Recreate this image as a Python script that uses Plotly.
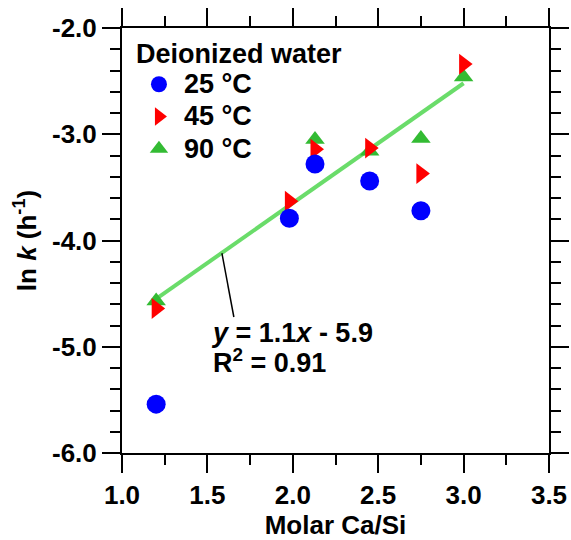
import plotly.graph_objects as go

# Data
x_25 = [1.2, 1.98, 2.13, 2.45, 2.75]
y_25 = [-5.54, -3.79, -3.28, -3.44, -3.72]

x_45 = [1.2, 1.98, 2.13, 2.45, 2.75, 3.0]
y_45 = [-4.64, -3.63, -3.14, -3.13, -3.37, -2.34]

x_90 = [1.2, 2.13, 2.45, 2.75, 3.0]
y_90 = [-4.57, -3.05, -3.16, -3.04, -2.46]

fit_x = [1.2, 3.0]
fit_y = [-4.55, -2.52]

leader_x = [1.585, 1.655]
leader_y = [-4.12, -4.72]

series_names = ["25 °C", "45 °C", "90 °C"]

x_tickvals = [1.0, 1.5, 2.0, 2.5, 3.0, 3.5]
x_ticktext = ["1.0", "1.5", "2.0", "2.5", "3.0", "3.5"]
y_tickvals = [-6.0, -5.0, -4.0, -3.0, -2.0]
y_ticktext = ["-6.0", "-5.0", "-4.0", "-3.0", "-2.0"]

FONT = "Liberation Sans, Arial, sans-serif"
FS = 26


def big(s, px=27):
    return '<span style="font-size:%dpx">' % px + s + "</span>"


fig = go.Figure()

fig.add_trace(go.Scatter(x=fit_x, y=fit_y, mode="lines",
                         line=dict(color="#6ADC6A", width=4),
                         showlegend=False, hoverinfo="skip"))
fig.add_trace(go.Scatter(x=x_90, y=y_90, mode="markers", name=big(series_names[2]),
                         marker=dict(symbol="triangle-up", size=17, color="#33BB33"),
                         legendrank=3))
fig.add_trace(go.Scatter(x=x_45, y=y_45, mode="markers", name=big(series_names[1]),
                         marker=dict(symbol="triangle-right", size=18, color="#FF0000"),
                         legendrank=2))
fig.add_trace(go.Scatter(x=x_25, y=y_25, mode="markers", name=big(series_names[0]),
                         marker=dict(symbol="circle", size=19, color="#0000FF"),
                         legendrank=1))

fig.add_shape(type="line", x0=leader_x[0], y0=leader_y[0], x1=leader_x[1], y1=leader_y[1],
              xref="x", yref="y", line=dict(color="black", width=1.5))

fig.add_annotation(x=leader_x[1], y=leader_y[1], xref="x", yref="y",
                   xanchor="left", yanchor="middle", xshift=-25, yshift=-31,
                   text=big("<i>y</i> = 1.1<i>x</i> - 5.9") + "<br>" + big("R<sup>2</sup> = 0.91"),
                   showarrow=False, align="left",
                   font=dict(family=FONT, size=23, color="black", weight="bold"))

axis_common = dict(
    showline=True, linecolor="black", linewidth=2,
    mirror="allticks", ticks="outside", ticklen=18, tickwidth=2, tickcolor="black",
    showgrid=False, zeroline=False, automargin=False,
    tickfont=dict(family=FONT, size=FS, color="black", weight="bold"),
)

fig.update_xaxes(range=[1.0, 3.5], tickmode="array", tickvals=x_tickvals, ticktext=x_ticktext,
                 minor=dict(dtick=0.25, tick0=1.0, ticks="outside", ticklen=10, tickwidth=2, tickcolor="black"),
                 title=dict(text="Molar Ca/Si", standoff=9,
                            font=dict(family=FONT, size=FS, color="black", weight="bold")),
                 **axis_common)
fig.update_yaxes(range=[-6.0, -2.0], tickmode="array", tickvals=y_tickvals, ticktext=y_ticktext,
                 minor=dict(dtick=0.2, tick0=-6.0, ticks="outside", ticklen=10, tickwidth=2, tickcolor="black"),
                 title=dict(text="ln <i>k</i> (h<sup>-1</sup>)", standoff=8,
                            font=dict(family=FONT, size=FS, color="black", weight="bold")),
                 **axis_common)

fig.update_layout(
    width=571, height=540,
    margin=dict(l=122, r=22, t=28, b=87),
    plot_bgcolor="white", paper_bgcolor="white",
    font=dict(family=FONT, color="black"),
    legend=dict(x=0.028, y=1.0, xanchor="left", yanchor="top",
                bgcolor="rgba(0,0,0,0)",
                title=dict(text="Deionized water",
                           font=dict(family=FONT, size=27, color="black", weight="bold")),
                font=dict(family=FONT, size=22.5, color="black", weight="bold"),
                itemwidth=40),
)

fig.write_html("out.html")
